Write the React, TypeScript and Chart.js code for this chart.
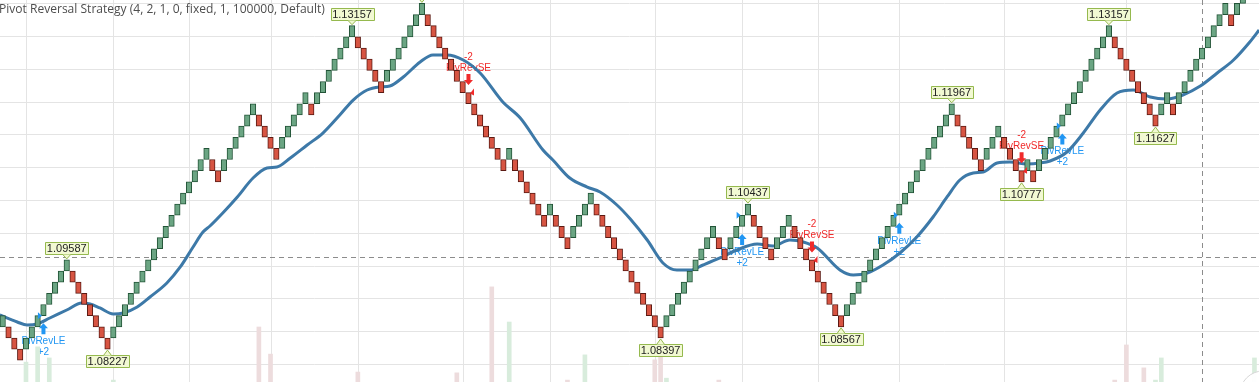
import React, { useEffect, useRef } from "react";
import { Chart, registerables } from "chart.js";

Chart.register(...registerables);

// ---------- data ----------
const TITLE = "Pivot Reversal Strategy (4, 2, 1, 0, fixed, 1, 100000, Default)";
const BASE_PRICE = 1.08227;
const BRICK_SIZE = 0.0017;

// renko brick levels (brick spans BASE + k*SIZE .. BASE + (k+1)*SIZE), one per brick index
const BRICK_LEVELS: number[] = [
  2, 1, 0, -1, 0, 1, 2, 3, 4, 5, 6, 7, 6, 5, 4, 3, 2, 1, 0,
  1, 2, 3, 4, 5, 6, 7, 8, 9, 10, 11, 12, 13, 14, 15, 16, 17,
  16, 15,
  16, 17, 18, 19, 20, 21,
  20, 19, 18, 17,
  18, 19, 20, 21, 22,
  21,
  22, 23, 24, 25, 26, 27, 28,
  27, 26, 25, 24, 23,
  24, 25, 26, 27, 28, 29, 30,
  29, 28, 27, 26, 25, 24, 23, 22, 21, 20, 19, 18, 17, 16,
  17,
  16, 15, 14, 13, 12, 11,
  12,
  11, 10, 9,
  10, 11, 12, 13,
  12, 11, 10, 9, 8, 7, 6, 5, 4, 3, 2, 1,
  2, 3, 4, 5, 6, 7, 8, 9, 10,
  9, 8,
  9, 10, 11, 12,
  11, 10, 9, 8,
  9, 10, 11,
  10, 9, 8, 7, 6, 5, 4, 3, 2,
  3, 4, 5, 6, 7, 8, 9, 10, 11, 12, 13, 14, 15, 16, 17, 18, 19, 20, 21,
  20, 19, 18, 17, 16,
  17, 18, 19,
  18, 17, 16, 15,
  16,
  15,
  16, 17, 18, 19, 20, 21, 22, 23, 24, 25, 26, 27, 28,
  27, 26, 25, 24, 23, 22, 21, 20,
  21, 22,
  21,
  22, 23, 24, 25, 26, 27, 28, 29, 30,
  29,
  30, 31, 32, 33,
];

// moving average (brick index, price)
const MA_IDX: number[] = [
  -0.5, 2.5, 4.2, 5.9, 8.1, 11.0, 13.6, 15.0, 16.7, 19.0, 20.7, 23.1, 25.3, 28.2, 30.5, 32.7, 34.4, 35.6,
  37.8, 40.3, 43.0, 45.4, 47.1, 49.4, 52.3, 55.0, 57.9, 60.2, 62.6, 64.8, 66.5, 68.8, 71.7, 73.9, 76.3,
  79.1, 82.0, 85.9, 88.9, 92.8, 94.5, 97.4, 100.4, 102.6, 105.5, 107.8, 110.7, 113.4, 115.8, 118.1,
  120.3, 123.2, 126.1, 129.6, 132.3, 135.2, 137.5, 139.9, 143.8, 146.1, 148.5, 151.2, 154.1, 157.0,
  159.8, 162.2, 164.4, 166.7, 168.4, 170.8, 173.0, 175.9, 178.2, 179.9, 182.8, 185.6, 188.5, 191.4,
  194.2, 197.1, 200.0, 202.7, 205.7, 208.6, 211.4, 214.2, 215.8,
];
const MA_PRICE: number[] = [
  1.08747, 1.0864, 1.08595, 1.0861, 1.08701, 1.08823, 1.0893, 1.08915, 1.08854, 1.08762, 1.08777, 1.08869,
  1.09021, 1.09235, 1.09479, 1.09784, 1.10012, 1.10104, 1.10302, 1.10546, 1.10835, 1.10988, 1.11003,
  1.1114, 1.11338, 1.11521, 1.11796, 1.12024, 1.12177, 1.12223, 1.12238, 1.12375, 1.12604, 1.1271,
  1.1271, 1.12634, 1.12436, 1.11994, 1.1175, 1.11262, 1.1111, 1.10835, 1.10698, 1.10622, 1.10424,
  1.1021, 1.0989, 1.0954, 1.09433, 1.09433, 1.09509, 1.09616, 1.09738, 1.09829, 1.09799, 1.0989,
  1.0986, 1.09768, 1.09433, 1.09357, 1.09387, 1.09509, 1.09692, 1.09936, 1.10241, 1.10546, 1.10805,
  1.10912, 1.10927, 1.11064, 1.11079, 1.11049, 1.11064, 1.11095, 1.11232, 1.11521, 1.11872, 1.12131,
  1.12177, 1.1207, 1.1204, 1.12101, 1.12238, 1.12436, 1.12634, 1.12909, 1.13091,
];

// faint volume bars
const VOLUME_IDX: number[] = [4, 6, 8, 19, 44, 46, 61, 78, 84, 87, 97, 100, 112, 113, 114, 123, 191, 193, 196, 198, 199, 215];
const VOLUME_VAL: number[] = [5.2, 9.2, 6.3, 0.5, 14.4, 7.3, 2.6, 2.4, 24.9, 15.7, 0.5, 7.1, 5.8, 7.9, 1.0, 0.5, 0.5, 9.7, 3.7, 0.5, 6.3, 6.3];
const VOLUME_UP: number[] = [1, 1, 1, 1, 0, 0, 0, 0, 0, 1, 0, 1, 0, 0, 1, 0, 0, 0, 0, 1, 1, 1];

// pivot labels
const PIVOT_HIGH_IDX: number[] = [11, 60, 72, 128, 163, 190];
const PIVOT_LOW_IDX: number[] = [18, 113, 144, 175, 198];

// strategy signals
const LONG_SIGNAL_IDX: number[] = [7, 127, 154, 182];
const LONG_FILL_LEVEL: number[] = [3, 12, 12, 20];
const SHORT_SIGNAL_IDX: number[] = [80, 139, 175];
const SHORT_FILL_LEVEL: number[] = [23, 8, 16];
const LONG_TEXT = "PivRevLE";
const LONG_QTY = "+2";
const SHORT_TEXT = "PivRevSE";
const SHORT_QTY = "-2";

// grid / reference lines
const GRID_PRICES: number[] = [1.08, 1.085, 1.09, 1.095, 1.1, 1.105, 1.11, 1.115, 1.12, 1.125, 1.13, 1.135];
const GRID_IDX: number[] = [4, 19, 32, 46, 61, 79, 94, 112, 127, 140, 154, 172, 193];
const LAST_PRICE_LINE = 1.09636;
const CURSOR_IDX = 206;

// visible ranges
const X_MIN = -0.464;
const X_MAX = 215.78;
const Y_MIN = 1.077256;
const Y_MAX = 1.135488;

// ---------- styles ----------
const UP_FILL = "#6ba583";
const UP_BORDER = "#225437";
const DOWN_FILL = "#d75442";
const DOWN_BORDER = "#5b1a13";
const MA_COLOR = "#3d79a8";
const GRID_COLOR = "#e4e4e4";
const BLUE = "#2196f3";
const RED = "#f02a2a";

const brickLow = (k: number) => BASE_PRICE + k * BRICK_SIZE;
const brickHigh = (k: number) => BASE_PRICE + (k + 1) * BRICK_SIZE;
const isUp = (i: number) => (i === 0 ? true : BRICK_LEVELS[i] > BRICK_LEVELS[i - 1]);

const overlayPlugin = {
  id: "overlay",
  beforeDatasetsDraw(chart: any) {
    const { ctx, scales } = chart;
    const xs = scales.x;
    const ys = scales.y;
    const W = chart.width;
    const H = chart.height;
    ctx.save();
    ctx.lineWidth = 1;
    ctx.strokeStyle = GRID_COLOR;
    GRID_PRICES.forEach((p) => {
      const y = Math.round(ys.getPixelForValue(p)) + 0.5;
      ctx.beginPath();
      ctx.moveTo(0, y);
      ctx.lineTo(W, y);
      ctx.stroke();
    });
    GRID_IDX.forEach((i) => {
      const x = Math.round(xs.getPixelForValue(i)) + 0.5;
      ctx.beginPath();
      ctx.moveTo(x, 0);
      ctx.lineTo(x, H);
      ctx.stroke();
    });
    ctx.strokeStyle = "#8c8c8c";
    ctx.setLineDash([5, 4]);
    const yl = Math.round(ys.getPixelForValue(LAST_PRICE_LINE)) + 0.5;
    ctx.beginPath();
    ctx.moveTo(0, yl);
    ctx.lineTo(W, yl);
    ctx.stroke();
    const xc = Math.round(xs.getPixelForValue(CURSOR_IDX)) + 0.5;
    ctx.beginPath();
    ctx.moveTo(xc, 0);
    ctx.lineTo(xc, H);
    ctx.stroke();
    ctx.setLineDash([]);

    // signal texts (under bricks)
    ctx.font = '10px "Liberation Sans", Arial, sans-serif';
    ctx.textAlign = "center";
    ctx.textBaseline = "middle";
    ctx.fillStyle = BLUE;
    LONG_SIGNAL_IDX.forEach((i) => {
      const x = xs.getPixelForValue(i);
      const top = ys.getPixelForValue(brickLow(BRICK_LEVELS[i])) + 7.5;
      ctx.fillText(LONG_TEXT, x, top + 18);
      ctx.fillText(LONG_QTY, x, top + 29);
    });
    ctx.fillStyle = RED;
    SHORT_SIGNAL_IDX.forEach((i) => {
      const x = xs.getPixelForValue(i);
      const bot = ys.getPixelForValue(brickHigh(BRICK_LEVELS[i])) - 7.5;
      ctx.fillText(SHORT_TEXT, x, bot - 17);
      ctx.fillText(SHORT_QTY, x, bot - 28);
    });
    ctx.restore();
  },
  afterDatasetsDraw(chart: any) {
    const { ctx, scales } = chart;
    const xs = scales.x;
    const ys = scales.y;
    const W = chart.width;
    const H = chart.height;
    ctx.save();

    // arrows + fill flags
    LONG_SIGNAL_IDX.forEach((i, n) => {
      const x = xs.getPixelForValue(i);
      const top = ys.getPixelForValue(brickLow(BRICK_LEVELS[i])) + 7.5;
      ctx.fillStyle = BLUE;
      ctx.beginPath();
      ctx.moveTo(x, top);
      ctx.lineTo(x + 4.5, top + 5);
      ctx.lineTo(x + 2, top + 5);
      ctx.lineTo(x + 2, top + 11);
      ctx.lineTo(x - 2, top + 11);
      ctx.lineTo(x - 2, top + 5);
      ctx.lineTo(x - 4.5, top + 5);
      ctx.closePath();
      ctx.fill();
      const fy = ys.getPixelForValue(brickLow(LONG_FILL_LEVEL[n]));
      ctx.beginPath();
      ctx.moveTo(x - 5.5, fy - 3.5);
      ctx.lineTo(x - 1.5, fy);
      ctx.lineTo(x - 5.5, fy + 3.5);
      ctx.closePath();
      ctx.fill();
    });
    SHORT_SIGNAL_IDX.forEach((i, n) => {
      const x = xs.getPixelForValue(i);
      const bot = ys.getPixelForValue(brickHigh(BRICK_LEVELS[i])) - 7.5;
      ctx.fillStyle = RED;
      ctx.beginPath();
      ctx.moveTo(x, bot);
      ctx.lineTo(x + 4.5, bot - 5);
      ctx.lineTo(x + 2, bot - 5);
      ctx.lineTo(x + 2, bot - 11);
      ctx.lineTo(x - 2, bot - 11);
      ctx.lineTo(x - 2, bot - 5);
      ctx.lineTo(x - 4.5, bot - 5);
      ctx.closePath();
      ctx.fill();
      const fy = ys.getPixelForValue(brickLow(SHORT_FILL_LEVEL[n]));
      ctx.beginPath();
      ctx.moveTo(x + 5.5, fy - 4);
      ctx.lineTo(x + 5.5, fy + 3);
      ctx.lineTo(x + 1.5, fy + 1);
      ctx.closePath();
      ctx.fill();
    });

    // pivot price labels
    ctx.font = '11px "Liberation Sans", Arial, sans-serif';
    ctx.textAlign = "center";
    ctx.textBaseline = "middle";
    const drawLabel = (i: number, price: number, above: boolean) => {
      const x = xs.getPixelForValue(i);
      const tip = ys.getPixelForValue(price) + (above ? -1 : 1);
      const txt = price.toFixed(5);
      const w = Math.round(ctx.measureText(txt).width + 3);
      const h = 12;
      const dir = above ? -1 : 1;
      const boxEdge = tip + dir * 5;
      const boxTop = above ? boxEdge - h : boxEdge;
      const bx = Math.round(x - w / 2) + 0.5;
      const by = Math.round(boxTop) + 0.5;
      ctx.fillStyle = "#f2f9d3";
      ctx.strokeStyle = "#95b94e";
      ctx.lineWidth = 1;
      ctx.beginPath();
      ctx.rect(bx, by, w, h);
      ctx.fill();
      ctx.stroke();
      ctx.beginPath();
      ctx.moveTo(x - 4, Math.round(boxEdge) + 0.5);
      ctx.lineTo(x, tip);
      ctx.lineTo(x + 4, Math.round(boxEdge) + 0.5);
      ctx.closePath();
      ctx.fill();
      ctx.beginPath();
      ctx.moveTo(x - 4, Math.round(boxEdge) + 0.5);
      ctx.lineTo(x, tip);
      ctx.lineTo(x + 4, Math.round(boxEdge) + 0.5);
      ctx.stroke();
      ctx.fillStyle = "#222222";
      ctx.fillText(txt, x, by + h / 2 + 0.5);
    };
    PIVOT_HIGH_IDX.forEach((i) => drawLabel(i, brickHigh(BRICK_LEVELS[i]), true));
    PIVOT_LOW_IDX.forEach((i) => drawLabel(i, brickLow(BRICK_LEVELS[i]), false));

    // title
    ctx.textAlign = "left";
    ctx.textBaseline = "alphabetic";
    ctx.font = '13px "Open Sans", sans-serif';
    const w13 = ctx.measureText(TITLE).width;
    const size = (13 * 326) / w13;
    ctx.font = `${size.toFixed(2)}px "Open Sans", sans-serif`;
    ctx.fillStyle = "#4e4e4e";
    ctx.fillText(TITLE, -1, 13);

    // corner button
    ctx.beginPath();
    ctx.arc(W + 4, H + 12, 23, 0, Math.PI * 2);
    ctx.fillStyle = "rgba(255,255,255,0.95)";
    ctx.fill();
    ctx.strokeStyle = "#d6d6d6";
    ctx.stroke();
    ctx.restore();
  },
};

export default function App() {
  const ref = useRef<HTMLCanvasElement>(null);
  useEffect(() => {
    document.body.style.margin = "0";
    const canvas = ref.current;
    if (!canvas) return;
    const bricks = BRICK_LEVELS.map((k, i) => ({ x: i, y: [brickLow(k), brickHigh(k)] }));
    const volumes = VOLUME_IDX.map((i, n) => ({ x: i, y: VOLUME_VAL[n] }));
    const ma = MA_IDX.map((i, n) => ({ x: i, y: MA_PRICE[n] }));
    const chart = new Chart(canvas, {
      type: "bar",
      data: {
        datasets: [
          {
            type: "bar",
            data: volumes as any,
            yAxisID: "yv",
            backgroundColor: VOLUME_UP.map((u) => (u ? "#d8ecdc" : "#eddcdd")),
            borderWidth: 0,
            barThickness: 4,
            grouped: false,
            order: 3,
          } as any,
          {
            type: "line",
            data: ma as any,
            yAxisID: "y",
            borderColor: MA_COLOR,
            borderWidth: 3,
            pointRadius: 0,
            cubicInterpolationMode: "monotone",
            fill: false,
            order: 2,
          } as any,
          {
            type: "bar",
            data: bricks as any,
            yAxisID: "y",
            backgroundColor: BRICK_LEVELS.map((_, i) => (isUp(i) ? UP_FILL : DOWN_FILL)),
            borderColor: BRICK_LEVELS.map((_, i) => (isUp(i) ? UP_BORDER : DOWN_BORDER)),
            borderWidth: 1,
            borderSkipped: false,
            barThickness: 5.5,
            grouped: false,
            order: 1,
          } as any,
        ],
      },
      options: {
        responsive: false,
        animation: false,
        devicePixelRatio: 1,
        layout: { padding: 0 },
        plugins: { legend: { display: false }, tooltip: { enabled: false }, title: { display: false } },
        events: [],
        scales: {
          x: { type: "linear", min: X_MIN, max: X_MAX, display: false, offset: false },
          y: { type: "linear", min: Y_MIN, max: Y_MAX, display: false },
          yv: { type: "linear", min: 0, max: 100, display: false },
        },
      } as any,
      plugins: [overlayPlugin],
    });
    return () => chart.destroy();
  }, []);
  return (
    <div style={{ width: 1259, height: 382, position: "relative", background: "#ffffff", overflow: "hidden" }}>
      <canvas ref={ref} width={1259} height={382} style={{ display: "block" }} />
    </div>
  );
}
